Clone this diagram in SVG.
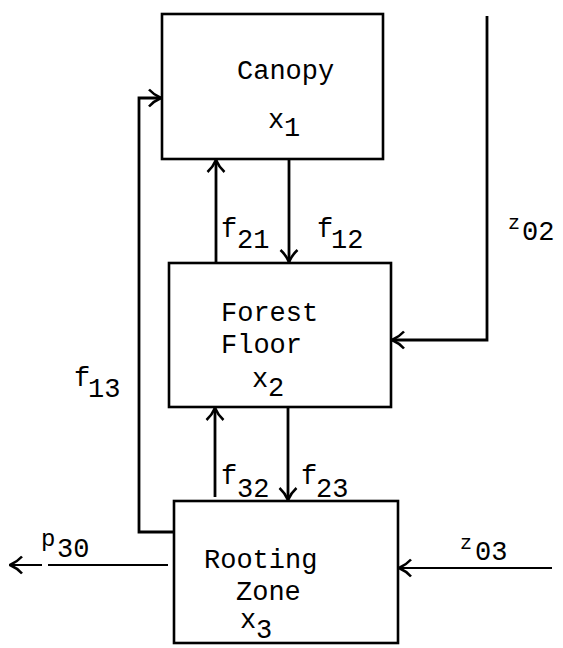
<svg xmlns="http://www.w3.org/2000/svg" width="563" height="648" viewBox="0 0 563 648">
<style>
.box{fill:#fff;stroke:#000;stroke-width:2.6}
.c{fill:none;stroke:#000;stroke-width:2.8}
.thin{fill:none;stroke:#000;stroke-width:2}
text{font-family:"Liberation Mono","DejaVu Sans Mono",monospace;font-size:27px;fill:#000}
.sm{font-size:20px}
.md{font-size:24px}
</style>
<defs>
<marker id="ah" viewBox="0 0 20 20" refX="19" refY="10" markerWidth="20" markerHeight="20" markerUnits="userSpaceOnUse" orient="auto">
<path d="M7,1.5 Q12,7 19,10 Q12,13 7,18.5" fill="none" stroke="#000" stroke-width="2.6"/>
</marker>
</defs>
<rect width="563" height="648" fill="#fff"/>
<g id="connectors">
<line class="c" x1="216" y1="263" x2="216" y2="160" marker-end="url(#ah)"/>
<line class="c" x1="289" y1="159" x2="289" y2="262" marker-end="url(#ah)"/>
<line class="c" x1="215" y1="497" x2="215" y2="408" marker-end="url(#ah)"/>
<line class="c" x1="288" y1="407" x2="288" y2="500" marker-end="url(#ah)"/>
<path class="c" d="M174,532 H139 V98 H161" marker-end="url(#ah)"/>
<path class="c" d="M487,16 V340 H392" marker-end="url(#ah)"/>
<path class="thin" d="M552,568 H399" marker-end="url(#ah)"/>
<path class="thin" d="M168,565 H48"/>
<path class="thin" d="M42,565 H10" marker-end="url(#ah)"/>
</g>
<g id="canopy">
<rect class="box" x="162" y="14" width="221" height="145"/>
<text x="237" y="79">Canopy</text>
<text x="268" y="128">x<tspan x="284" y="136">1</tspan></text>
</g>
<g id="forest-floor">
<rect class="box" x="169" y="263" width="222" height="144"/>
<text x="221" y="321">Forest</text>
<text x="221" y="353">Floor</text>
<text x="252" y="387">x<tspan x="268" y="396">2</tspan></text>
</g>
<g id="rooting-zone">
<rect class="box" x="174" y="501" width="224" height="142"/>
<text x="204" y="568">Rooting</text>
<text x="236" y="600">Zone</text>
<text x="240" y="628">x<tspan x="256" y="638">3</tspan></text>
</g>
<g id="labels">
<text x="221" y="237">f<tspan x="237" y="248">21</tspan></text>
<text x="317" y="237">f<tspan x="331" y="248">12</tspan></text>
<text x="221" y="484">f<tspan x="237" y="497">32</tspan></text>
<text x="301" y="484">f<tspan x="316" y="497">23</tspan></text>
<text x="74" y="386">f<tspan x="88" y="397">13</tspan></text>
<text x="508" y="229" class="sm">z</text>
<text x="522" y="240">02</text>
<text x="460" y="549" class="sm">z</text>
<text x="475" y="560">03</text>
<text x="41" y="546" class="md">p</text>
<text x="57" y="557">30</text>
</g>
</svg>
